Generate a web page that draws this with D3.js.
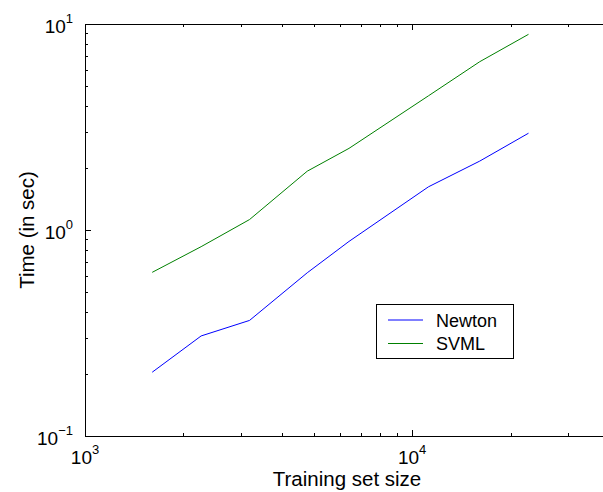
<!DOCTYPE html>
<html>
<head>
<meta charset="utf-8">
<script src="https://cdn.jsdelivr.net/npm/d3@7"></script>
<style>
  body { margin: 0; background: #fff; }
  text { font-family: "Liberation Sans", Arial, sans-serif; fill: #000; }
</style>
</head>
<body>
<div id="chart"></div>
<script>
const width = 603;
const height = 492;

// Training set sizes (adult a1a..a8a)
const sizes = [1605, 2265, 3185, 4781, 6414, 11220, 16100, 22696];
// Time in seconds
const newtonTimes = [0.204, 0.306, 0.364, 0.62, 0.88, 1.62, 2.16, 2.95];
const svmlTimes = [0.623, 0.83, 1.124, 1.93, 2.49, 4.48, 6.56, 8.91];

const seriesNames = ["Newton", "SVML"];
const seriesColors = ["#0000ff", "#008000"];

const xMajor = [1e3, 1e4];
const yMajor = [0.1, 1, 10];
const xExp = ["3", "4"];
const yExp = ["\u22121", "0", "1"];

const plotLeft = 85, plotRight = 609, plotTop = 24, plotBottom = 436;

const x = d3.scaleLog().domain([1e3, 4e4]).range([plotLeft, plotRight]);
const y = d3.scaleLog().domain([0.1, 10]).range([plotBottom, plotTop]);

const svg = d3.select("#chart").append("svg")
    .attr("width", width)
    .attr("height", height)
    .style("background", "#fff");

// minor tick positions
const xMinor = [];
for (let d = 1e3; d < 4e4; d *= 10) {
    for (let k = 2; k <= 9; k++) if (d * k <= 4e4) xMinor.push(d * k);
}
const yMinor = [];
for (let d = 0.1; d < 10; d *= 10) {
    for (let k = 2; k <= 9; k++) yMinor.push(d * k);
}

const ticks = svg.append("g").attr("stroke", "#000").attr("stroke-width", 1);

// x ticks, bottom (pointing up) and top (pointing down)
xMajor.concat(xMinor).forEach(v => {
    const len = xMajor.includes(v) ? 6 : 3;
    const px = Math.round(x(v)) + 0.5;
    ticks.append("line").attr("x1", px).attr("x2", px).attr("y1", plotBottom).attr("y2", plotBottom - len);
    ticks.append("line").attr("x1", px).attr("x2", px).attr("y1", plotTop).attr("y2", plotTop + len);
});

// y ticks, left (pointing right)
yMajor.concat(yMinor).forEach(v => {
    const len = yMajor.includes(v) ? 6 : 3;
    const py = Math.round(y(v)) + 0.5;
    ticks.append("line").attr("x1", plotLeft).attr("x2", plotLeft + len).attr("y1", py).attr("y2", py);
});

// axis box (right side falls outside the picture)
svg.append("path")
    .attr("fill", "none")
    .attr("stroke", "#000")
    .attr("stroke-width", 1)
    .attr("d", `M${plotRight + 0.5},${plotTop + 0.5}H${plotLeft + 0.5}V${plotBottom + 0.5}H${plotRight + 0.5}`);

// lines
const line = d3.line().x(d => x(d[0])).y(d => y(d[1]));
[newtonTimes, svmlTimes].forEach((vals, i) => {
    svg.append("path")
        .datum(sizes.map((s, j) => [s, vals[j]]))
        .attr("fill", "none")
        .attr("stroke", seriesColors[i])
        .attr("stroke-width", 1)
        .attr("d", line);
});

// tick labels
xMajor.forEach((v, i) => {
    const t = svg.append("text")
        .attr("x", x(v))
        .attr("y", plotBottom + 28)
        .attr("text-anchor", "middle")
        .style("font-size", "19px");
    t.append("tspan").text("10");
    t.append("tspan").attr("dy", -10).style("font-size", "13px").text(xExp[i]);
});

yMajor.forEach((v, i) => {
    const t = svg.append("text")
        .attr("x", 73)
        .attr("y", y(v) + 8.5)
        .attr("text-anchor", "end")
        .style("font-size", "19px");
    t.append("tspan").text("10");
    t.append("tspan").attr("dy", -10).style("font-size", "13px").text(yExp[i]);
});

// axis titles
svg.append("text")
    .attr("x", (plotLeft + plotRight) / 2)
    .attr("y", 486)
    .attr("text-anchor", "middle")
    .style("font-size", "20.5px")
    .text("Training set size");

svg.append("text")
    .attr("transform", `translate(34,${(plotTop + plotBottom) / 2}) rotate(-90)`)
    .attr("text-anchor", "middle")
    .style("font-size", "20.5px")
    .text("Time (in sec)");

// legend
const legend = svg.append("g");
legend.append("rect")
    .attr("x", 376.5).attr("y", 304.5)
    .attr("width", 137).attr("height", 54)
    .attr("fill", "#fff")
    .attr("stroke", "#000");

seriesNames.forEach((name, i) => {
    const ly = 320 + i * 23.5;
    legend.append("line")
        .attr("x1", 388).attr("x2", 423)
        .attr("y1", ly).attr("y2", ly)
        .attr("stroke", seriesColors[i])
        .attr("stroke-width", 1);
    legend.append("text")
        .attr("x", 436)
        .attr("y", ly + 6.5)
        .style("font-size", "18px")
        .text(name);
});
</script>
</body>
</html>
